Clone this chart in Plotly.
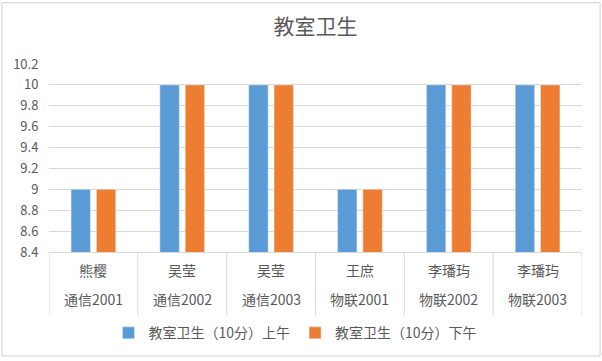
import plotly.graph_objects as go

names = ["熊樱", "吴莹", "吴莹", "王庶", "李璠玙", "李璠玙"]
classes = ["通信2001", "通信2002", "通信2003", "物联2001", "物联2002", "物联2003"]
morning = [9, 10, 10, 9, 10, 10]
afternoon = [9, 10, 10, 9, 10, 10]
series_names = ["教室卫生（10分）上午", "教室卫生（10分）下午"]
title_text = "教室卫生"

FONT = "Noto Sans CJK SC"
GRAY = "#595959"
GRID = "#D9D9D9"

x = list(range(len(names)))

fig = go.Figure()
fig.add_trace(go.Bar(x=x, y=morning, name=series_names[0], marker_color="#5B9BD5"))
fig.add_trace(go.Bar(x=x, y=afternoon, name=series_names[1], marker_color="#ED7D31"))

annotations = []
shapes = []
for i in x:
    annotations.append(dict(x=i, y=-0.098, xref="x", yref="paper", text=names[i],
                            showarrow=False, font=dict(size=14, color=GRAY, family=FONT),
                            yanchor="middle"))
    annotations.append(dict(x=i, y=-0.251, xref="x", yref="paper", text=classes[i],
                            showarrow=False, font=dict(size=14, color=GRAY, family=FONT),
                            yanchor="middle"))
for i in range(len(names) + 1):
    shapes.append(dict(type="line", xref="x", yref="paper", x0=i - 0.5, x1=i - 0.5,
                       y0=0, y1=-0.337, line=dict(color=GRID, width=1)))
shapes.append(dict(type="rect", xref="paper", yref="paper", x0=-0.0882, x1=1.034,
                   y0=-0.553, y1=1.326, line=dict(color="#D0D0D0", width=1)))

fig.update_layout(
    width=602, height=361,
    margin=dict(l=49, r=20, t=64, b=107),
    paper_bgcolor="white", plot_bgcolor="white",
    title=dict(text=title_text, x=0.5, xref="paper", y=1 - 27 / 361, yanchor="middle",
               font=dict(size=21, color=GRAY, family=FONT)),
    barmode="group", bargap=0.43, bargroupgap=0.235,
    xaxis=dict(range=[-0.5, len(names) - 0.5], showticklabels=False, showgrid=False,
               zeroline=False, showline=True, linecolor=GRID, ticks=""),
    yaxis=dict(range=[8.4, 10.2], dtick=0.2, tick0=8.4, showgrid=True, gridcolor=GRID,
               zeroline=False, showline=False, ticks="outside", ticklen=7, tickcolor="white",
               tickfont=dict(size=13, color=GRAY, family=FONT)),
    legend=dict(orientation="h", x=0.4625, xanchor="center", y=-0.432,
                yanchor="middle", font=dict(size=14, color=GRAY, family=FONT),
                itemwidth=30, traceorder="normal"),
    annotations=annotations, shapes=shapes,
    font=dict(family=FONT),
)

fig.write_html("out.html", config={"displayModeBar": False},
               post_script="document.body.style.margin='0';")
